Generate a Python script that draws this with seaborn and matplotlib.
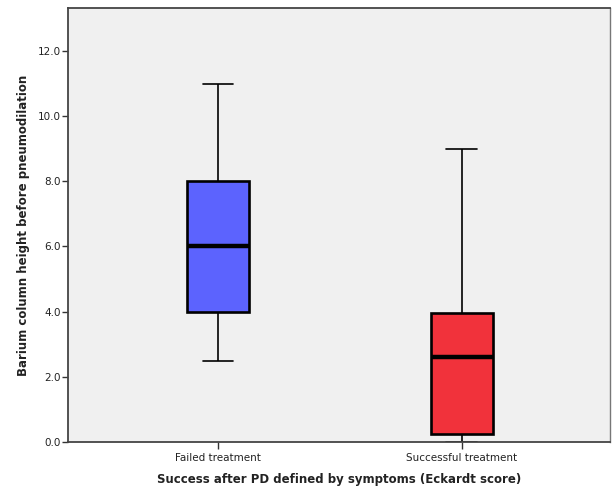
import matplotlib
matplotlib.use("Agg")
import matplotlib.pyplot as plt
import seaborn as sns
import pandas as pd

# Five-number summaries (min, Q1, median, Q3, max) per outcome group
groups = ["Failed treatment", "Successful treatment"]
failed_summary = [2.5, 4.0, 6.0, 8.0, 11.0]
success_summary = [0.0, 0.25, 2.6, 3.95, 9.0]
box_colors = ["#5c63fe", "#f1323b"]
y_ticks = [0.0, 2.0, 4.0, 6.0, 8.0, 10.0, 12.0]

df = pd.DataFrame({
    "group": [groups[0]] * len(failed_summary) + [groups[1]] * len(success_summary),
    "value": failed_summary + success_summary,
})

sns.set_theme(style="ticks")
plt.rcParams["font.family"] = ["DejaVu Sans"]

fig = plt.figure(figsize=(6.14, 4.87), dpi=100)
ax = fig.add_axes([0.1107, 0.0924, 0.8828, 0.8912])
ax.set_facecolor("#f0f0f0")

sns.boxplot(
    data=df, x="group", y="value", hue="group", palette=box_colors,
    order=groups, hue_order=groups, legend=False, width=0.254, whis=1.5,
    linecolor="black", linewidth=1.2, saturation=1, ax=ax,
    boxprops=dict(linewidth=1.9, edgecolor="black"),
    medianprops=dict(linewidth=3.2, color="black"),
    whiskerprops=dict(linewidth=1.2, color="black"),
    capprops=dict(linewidth=1.2, color="black"),
)

ax.set_xlim(-0.615, 1.607)
ax.set_ylim(0, 13.32)
ax.set_yticks(y_ticks)
ax.set_yticklabels([f"{t:.1f}" for t in y_ticks])

ax.tick_params(axis="y", direction="out", length=4, width=1.0, colors="#333333",
               labelsize=7.5, pad=1)
ax.tick_params(axis="x", direction="out", length=5, width=1.0, colors="#333333",
               labelsize=7.5, pad=3)
for lbl in ax.get_xticklabels() + ax.get_yticklabels():
    lbl.set_color("#222222")

for side in ["left", "top", "bottom"]:
    ax.spines[side].set_visible(True)
    ax.spines[side].set_color("#444444")
    ax.spines[side].set_linewidth(1.3)
ax.spines["right"].set_visible(True)
ax.spines["right"].set_color("#777777")
ax.spines["right"].set_linewidth(1.0)

ax.set_xlabel("Success after PD defined by symptoms (Eckardt score)",
              fontsize=8.5, fontweight="bold", color="#222222", labelpad=7)
ax.set_ylabel("Barium column height before pneumodilation",
              fontsize=8.5, fontweight="bold", color="#222222", labelpad=6)

fig.savefig("out.png", dpi=100)
